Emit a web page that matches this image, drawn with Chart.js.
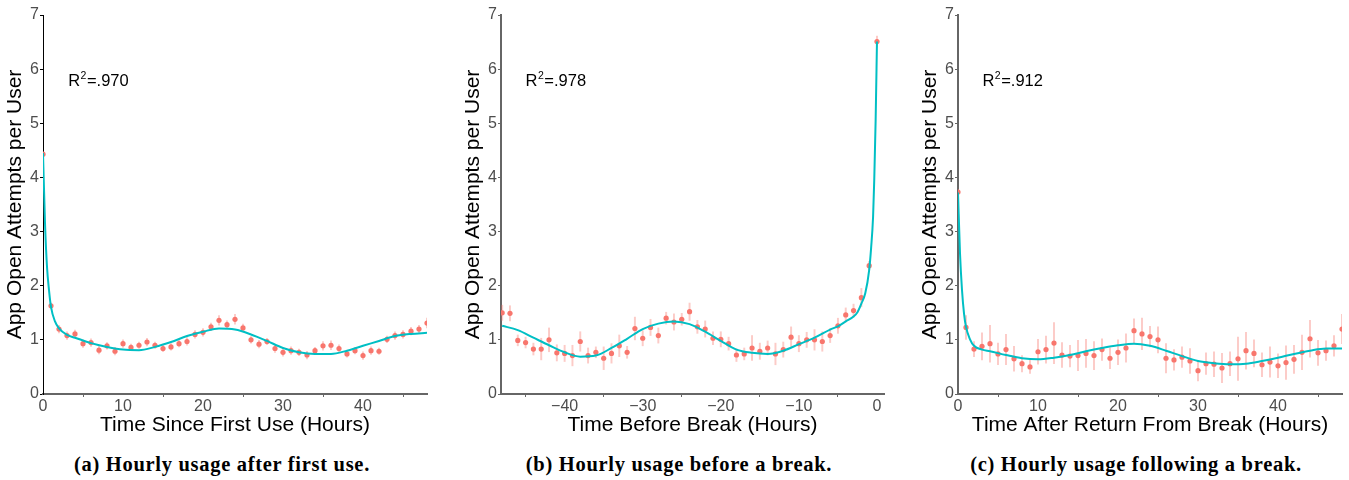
<!DOCTYPE html>
<html>
<head>
<meta charset="utf-8">
<script src="https://cdn.jsdelivr.net/npm/chart.js@4/dist/chart.umd.min.js"></script>
<style>
  html, body { margin: 0; padding: 0; background: #fff; }
  body { width: 1349px; height: 480px; position: relative; overflow: hidden; }
  canvas { position: absolute; top: 0; }
  .caption {
    position: absolute; top: 452px; width: 420px; text-align: center;
    font-family: "Liberation Serif", "Times New Roman", serif; font-weight: bold;
    font-size: 20.5px; line-height: 24px; letter-spacing: 0.7px; color: #000;
    white-space: nowrap;
  }
</style>
</head>
<body>
<canvas id="chart-a" width="435" height="445" style="left:0px"></canvas>
<canvas id="chart-b" width="435" height="445" style="left:458px"></canvas>
<canvas id="chart-c" width="435" height="445" style="left:915px"></canvas>
<div class="caption" style="left:12px">(a) Hourly usage after first use.</div>
<div class="caption" style="left:469px">(b) Hourly usage before a break.</div>
<div class="caption" style="left:926px">(c) Hourly usage following a break.</div>
<script>
// hours on the x axis
const hoursAfter = [0, 1, 2, 3, 4, 5, 6, 7, 8, 9, 10, 11, 12, 13, 14, 15, 16, 17, 18, 19, 20, 21, 22, 23, 24,
  25, 26, 27, 28, 29, 30, 31, 32, 33, 34, 35, 36, 37, 38, 39, 40, 41, 42, 43, 44, 45, 46, 47, 48]
const hoursBefore = [-48, -47, -46, -45, -44, -43, -42, -41, -40, -39, -38, -37, -36, -35, -34, -33, -32,
  -31, -30, -29, -28, -27, -26, -25, -24, -23, -22, -21, -20, -19, -18, -17, -16, -15, -14, -13, -12,
  -11, -10, -9, -8, -7, -6, -5, -4, -3, -2, -1, 0]

// (a) after first use: hourly means and error half-widths
const meanA = [4.43, 1.63, 1.20, 1.08, 1.11, 0.93, 0.95, 0.81, 0.89, 0.79, 0.93, 0.86, 0.90, 0.96, 0.90,
  0.84, 0.87, 0.93, 0.97, 1.10, 1.14, 1.24, 1.36, 1.28, 1.38, 1.22, 1.00, 0.92, 0.97, 0.84, 0.77, 0.80,
  0.77, 0.72, 0.80, 0.89, 0.90, 0.84, 0.74, 0.80, 0.71, 0.80, 0.79, 1.01, 1.08, 1.10, 1.16, 1.20, 1.31]
const errA = [0.04, 0.05, 0.07, 0.07, 0.07, 0.07, 0.07, 0.07, 0.06, 0.07, 0.07, 0.06, 0.06, 0.07, 0.06,
  0.06, 0.06, 0.06, 0.07, 0.07, 0.07, 0.07, 0.09, 0.07, 0.09, 0.07, 0.06, 0.07, 0.06, 0.07, 0.07, 0.07,
  0.06, 0.07, 0.06, 0.08, 0.08, 0.07, 0.06, 0.06, 0.07, 0.07, 0.06, 0.06, 0.07, 0.07, 0.07, 0.07, 0.09]
const fitAX = [0, 0.25, 0.5, 0.75, 1, 1.5, 2, 3, 4, 6, 8, 10, 12, 14, 16, 18, 20, 22, 24, 26, 28, 30, 32,
  34, 36, 38, 40, 42, 44, 46, 48]
const fitAY = [4.45, 3.16, 2.35, 1.92, 1.61, 1.34, 1.21, 1.09, 1.04, 0.94, 0.87, 0.82, 0.81, 0.87, 0.96,
  1.07, 1.15, 1.21, 1.19, 1.10, 0.98, 0.85, 0.77, 0.74, 0.74, 0.80, 0.89, 0.98, 1.07, 1.11, 1.13]

// (b) before a break
const meanB = [1.50, 1.49, 0.99, 0.95, 0.83, 0.83, 1.00, 0.76, 0.75, 0.71, 0.97, 0.71, 0.77, 0.66, 0.75,
  0.89, 0.77, 1.21, 1.03, 1.23, 1.08, 1.40, 1.33, 1.38, 1.52, 1.24, 1.20, 1.03, 1.01, 0.93, 0.72, 0.74,
  0.85, 0.79, 0.85, 0.74, 0.82, 1.05, 0.93, 1.00, 1.00, 0.97, 1.08, 1.26, 1.46, 1.54, 1.78, 2.37, 6.51]
const errB = [0.14, 0.14, 0.10, 0.10, 0.11, 0.20, 0.22, 0.15, 0.15, 0.19, 0.18, 0.14, 0.10, 0.21, 0.18,
  0.20, 0.11, 0.21, 0.14, 0.15, 0.14, 0.11, 0.15, 0.11, 0.16, 0.12, 0.15, 0.12, 0.14, 0.12, 0.12, 0.11,
  0.23, 0.15, 0.13, 0.20, 0.14, 0.19, 0.15, 0.14, 0.19, 0.18, 0.13, 0.14, 0.13, 0.12, 0.17, 0.08, 0.10]
const fitBX = [-48, -46, -44, -42, -40, -38, -36, -34, -32, -30, -28, -26, -24, -22, -20, -18, -16, -14,
  -12, -10, -8, -6, -5, -4, -3, -2.5, -2, -1.5, -1, -0.75, -0.5, -0.35, -0.17, 0]
const fitBY = [1.26, 1.18, 1.04, 0.90, 0.77, 0.69, 0.71, 0.85, 1.02, 1.20, 1.30, 1.34, 1.29, 1.15, 0.98,
  0.82, 0.76, 0.74, 0.80, 0.92, 1.04, 1.19, 1.25, 1.34, 1.43, 1.51, 1.67, 1.86, 2.29, 2.70, 3.27, 3.95,
  5.06, 6.51]

// (c) after return from a break
const meanC = [3.73, 1.23, 0.83, 0.88, 0.93, 0.74, 0.82, 0.65, 0.56, 0.50, 0.78, 0.82, 0.94, 0.72, 0.70,
  0.71, 0.75, 0.71, 0.82, 0.66, 0.77, 0.85, 1.17, 1.11, 1.06, 1.00, 0.66, 0.63, 0.68, 0.61, 0.43, 0.56,
  0.55, 0.48, 0.56, 0.65, 0.80, 0.75, 0.54, 0.59, 0.52, 0.58, 0.64, 0.77, 1.02, 0.76, 0.80, 0.89, 1.20]
const errC = [0.05, 0.22, 0.14, 0.25, 0.34, 0.20, 0.28, 0.23, 0.15, 0.12, 0.23, 0.25, 0.38, 0.23, 0.20,
  0.28, 0.26, 0.26, 0.20, 0.19, 0.23, 0.26, 0.22, 0.29, 0.19, 0.24, 0.27, 0.19, 0.19, 0.23, 0.19, 0.20,
  0.23, 0.27, 0.22, 0.40, 0.34, 0.25, 0.22, 0.28, 0.22, 0.31, 0.26, 0.32, 0.34, 0.23, 0.18, 0.19, 0.27]
const fitCX = [0, 0.25, 0.5, 0.75, 1, 1.5, 2, 3, 4, 6, 8, 10, 12, 14, 16, 18, 20, 22, 24, 26, 28, 30, 32,
  34, 36, 38, 40, 42, 44, 46, 48]
const fitCY = [3.72, 2.60, 1.92, 1.49, 1.24, 1.01, 0.89, 0.82, 0.79, 0.72, 0.66, 0.64, 0.67, 0.72, 0.79,
  0.85, 0.90, 0.93, 0.89, 0.80, 0.70, 0.61, 0.57, 0.55, 0.56, 0.61, 0.67, 0.74, 0.80, 0.84, 0.84]

// axis ticks and labels
const ticksAfter = [0, 10, 20, 30, 40]
const ticksBefore = [-40, -30, -20, -10, 0]
const ticksY = [0, 1, 2, 3, 4, 5, 6, 7]
const r2Text = ['.970', '.978', '.912']
const xTitles = ['Time Since First Use (Hours)', 'Time Before Break (Hours)',
  'Time After Return From Break (Hours)']

Chart.defaults.font.family = '"Liberation Sans", Arial, sans-serif'

const r2Plugin = {
  id: 'r2',
  afterDraw (chart, args, opts) {
    const { ctx, scales } = chart
    const x = scales.x.getPixelForValue(opts.x)
    const y = scales.y.getPixelForValue(opts.y)
    ctx.save()
    ctx.fillStyle = '#000'
    ctx.textBaseline = 'alphabetic'
    ctx.font = '16.5px "Liberation Sans"'
    ctx.fillText('R', x, y)
    let w = ctx.measureText('R').width
    ctx.font = '10.5px "Liberation Sans"'
    ctx.fillText('2', x + w + 0.5, y - 7)
    w += ctx.measureText('2').width + 1
    ctx.font = '16.5px "Liberation Sans"'
    ctx.fillText('=' + opts.text, x + w, y)
    ctx.restore()
  }
}

function buildChart (id, hours, mean, err, fitX, fitY, opts) {
  const ctx = document.getElementById(id)
  new Chart(ctx, {
    type: 'scatter',
    data: {
      datasets: [
        {
          type: 'line',
          data: fitX.map((x, i) => ({ x: x, y: fitY[i] })),
          borderColor: '#00BFC4',
          borderWidth: 2,
          pointRadius: 0,
          cubicInterpolationMode: 'monotone',
          fill: false,
          order: 0
        },
        {
          type: 'scatter',
          data: hours.map((h, i) => ({ x: h, y: mean[i] })),
          backgroundColor: '#F8766D',
          borderWidth: 0,
          pointRadius: 2.6,
          order: 1
        },
        {
          type: 'bar',
          data: hours.map((h, i) => ({ x: h, y: [mean[i] - err[i], mean[i] + err[i]] })),
          backgroundColor: 'rgba(248, 118, 109, 0.38)',
          barThickness: 1.3,
          order: 2
        }
      ]
    },
    options: {
      responsive: false,
      animation: false,
      events: [],
      layout: { padding: { top: 15, right: opts.padRight, left: 0, bottom: 0 } },
      scales: {
        x: {
          type: 'linear',
          min: opts.xMin,
          max: opts.xMax,
          offset: false,
          afterBuildTicks: axis => { axis.ticks = opts.xTicks.map(v => ({ value: v })) },
          afterFit: axis => { axis.height = 51 },
          grid: { drawOnChartArea: false, drawTicks: true, tickLength: 3, color: '#666' },
          border: { display: true, color: '#666', width: 2 },
          ticks: {
            padding: 0,
            color: '#4d4d4d',
            font: { size: 16 },
            maxRotation: 0,
            callback: v => String(v).replace('-', '\u2212')
          },
          title: {
            display: true,
            text: opts.xTitle,
            color: '#000',
            font: { size: 21 },
            padding: { top: 0, bottom: 7 }
          }
        },
        y: {
          type: 'linear',
          min: 0,
          max: 7,
          afterBuildTicks: axis => { axis.ticks = ticksY.map(v => ({ value: v })) },
          afterFit: axis => { axis.width = 43 },
          grid: { drawOnChartArea: false, drawTicks: true, tickLength: 3, color: opts.yColor },
          border: { display: true, color: opts.yColor, width: opts.yWidth },
          ticks: { padding: 1, color: '#4d4d4d', font: { size: 16 } },
          title: {
            display: true,
            text: 'App Open Attempts per User',
            color: '#000',
            font: { size: 21 },
            padding: { top: 3, bottom: 0 }
          }
        }
      },
      plugins: {
        legend: { display: false },
        tooltip: { enabled: false },
        r2: { x: opts.r2x, y: 5.69, text: opts.r2 }
      }
    },
    plugins: [r2Plugin]
  })
}

buildChart('chart-a', hoursAfter, meanA, errA, fitAX, fitAY, {
  xMin: 0, xMax: 48, xTicks: ticksAfter, xTitle: xTitles[0], padRight: 8,
  yColor: '#000', yWidth: 1, r2x: 3.15, r2: r2Text[0]
})
buildChart('chart-b', hoursBefore, meanB, errB, fitBX, fitBY, {
  xMin: -48.15, xMax: 0.9, xTicks: ticksBefore, xTitle: xTitles[1], padRight: 9,
  yColor: '#666', yWidth: 2, r2x: -45, r2: r2Text[1]
})
buildChart('chart-c', hoursAfter, meanC, errC, fitCX, fitCY, {
  xMin: 0, xMax: 48, xTicks: ticksAfter, xTitle: xTitles[2], padRight: 8,
  yColor: '#666', yWidth: 2, r2x: 3.05, r2: r2Text[2]
})
</script>
</body>
</html>
